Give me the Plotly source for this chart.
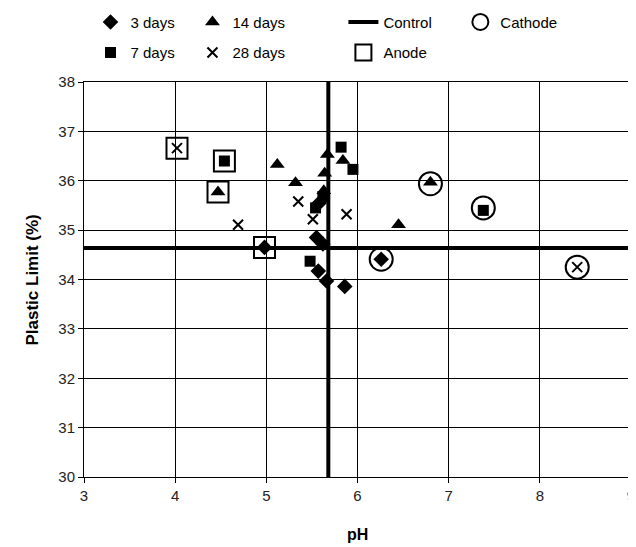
import plotly.graph_objects as go

# ---- data ----
ph_3d = [4.98, 5.55, 5.62, 5.57, 5.66, 5.86, 6.26, 5.58]
pl_3d = [34.65, 34.85, 34.72, 34.17, 33.97, 33.86, 34.41, 35.55]

ph_7d = [4.54, 5.82, 5.95, 5.48, 7.38, 5.62, 5.54]
pl_7d = [36.40, 36.68, 36.23, 34.37, 35.40, 35.68, 35.45]

ph_14d = [4.47, 5.12, 5.32, 5.67, 5.64, 5.84, 6.45, 6.80, 5.63]
pl_14d = [35.77, 36.33, 35.96, 36.53, 36.15, 36.41, 35.11, 35.97, 35.80]

ph_28d = [4.02, 4.69, 5.35, 5.51, 5.88, 8.41]
pl_28d = [36.66, 35.11, 35.58, 35.22, 35.32, 34.25]

ph_anode = [4.02, 4.54, 4.47, 4.98]
pl_anode = [36.66, 36.40, 35.77, 34.65]

ph_cathode = [6.26, 6.80, 7.38, 8.41]
pl_cathode = [34.41, 35.94, 35.45, 34.25]

control_pl = 34.64
control_ph = 5.68
x_range = [3, 9]
y_range = [30, 38]

font = "Liberation Sans, Arial, sans-serif"

# figure geometry (page has an 8px body margin)
W, H = 628, 539
ML, MR, MT, MB = 75.5, 5.3, 73.5, 69.5
PW, PH = W - ML - MR, H - MT - MB


def px_x(x):
    return (x - ML) / PW


def px_y(y):
    return 1 - (y - MT) / PH


fig = go.Figure()


def pts(name, x, y, symbol, size, legend, lw=0):
    fig.add_trace(go.Scatter(
        x=x, y=y, mode="markers", name=name, legend=legend, legendgroup=name,
        marker=dict(symbol=symbol, size=size, color="black",
                    line=dict(color="black", width=lw)),
    ))


pts("3 days", ph_3d, pl_3d, "diamond", 12, "legend")
pts("7 days", ph_7d, pl_7d, "square", 11, "legend")
pts("14 days", ph_14d, pl_14d, "triangle-up", 13, "legend2")
pts("28 days", ph_28d, pl_28d, "x-thin-open", 10, "legend2", lw=2)

fig.add_trace(go.Scatter(
    x=[x_range[0], x_range[1], None, control_ph, control_ph],
    y=[control_pl, control_pl, None, y_range[0], y_range[1]],
    mode="lines", name="Control", legend="legend3", legendgroup="Control",
    line=dict(color="black", width=4),
))
fig.add_trace(go.Scatter(
    x=ph_anode, y=pl_anode, mode="markers", name="Anode", legend="legend3",
    legendgroup="Anode",
    marker=dict(symbol="square-open", size=21, color="black",
                line=dict(color="black", width=2)),
))
fig.add_trace(go.Scatter(
    x=ph_cathode, y=pl_cathode, mode="markers", name="Cathode", legend="legend4",
    legendgroup="Cathode",
    marker=dict(symbol="circle-open", size=23, color="black",
                line=dict(color="black", width=2)),
))

leg_top = -3
leg_common = dict(orientation="v", bgcolor="rgba(0,0,0,0)",
                  font=dict(family=font, size=15, color="black"),
                  xanchor="left", yanchor="top", yref="paper", xref="paper",
                  traceorder="grouped", tracegroupgap=8,
                  itemsizing="trace", itemwidth=30)

fig.update_layout(
    width=W, height=H,
    paper_bgcolor="white", plot_bgcolor="white",
    margin=dict(l=ML, r=MR, t=MT, b=MB, autoexpand=False),
    font=dict(family=font, size=15, color="black"),
    showlegend=True,
    legend=dict(**leg_common, x=px_x(82), y=px_y(leg_top)),
    legend2=dict(**leg_common, x=px_x(184), y=px_y(leg_top)),
    legend3=dict(**leg_common, x=px_x(335), y=px_y(leg_top)),
    legend4=dict(**leg_common, x=px_x(452), y=px_y(leg_top)),
    xaxis=dict(
        range=x_range, dtick=1, showgrid=True, gridcolor="black", gridwidth=1,
        showline=True, linecolor="black", linewidth=1, mirror=True,
        ticks="outside", ticklen=5, tickcolor="black",
        zeroline=False, ticklabeloverflow="allow",
        tickfont=dict(family=font, size=15, color="#222"),
    ),
    yaxis=dict(
        range=y_range, dtick=1, showgrid=True, gridcolor="black", gridwidth=1,
        showline=True, linecolor="black", linewidth=1, mirror=True,
        ticks="outside", ticklen=5, tickcolor="black",
        zeroline=False, ticklabeloverflow="allow",
        tickfont=dict(family=font, size=15, color="#222"),
    ),
    annotations=[
        dict(text="<b>pH</b>", xref="paper", yref="paper",
             x=px_x(349), y=px_y(527), showarrow=False,
             xanchor="center", yanchor="middle",
             font=dict(family=font, size=16, color="black")),
        dict(text="<b>Plastic Limit (%)</b>", xref="paper", yref="paper",
             x=px_x(24), y=px_y(272), showarrow=False, textangle=-90,
             xanchor="center", yanchor="middle",
             font=dict(family=font, size=17, color="black")),
    ],
)

fig.write_html("out.html")
